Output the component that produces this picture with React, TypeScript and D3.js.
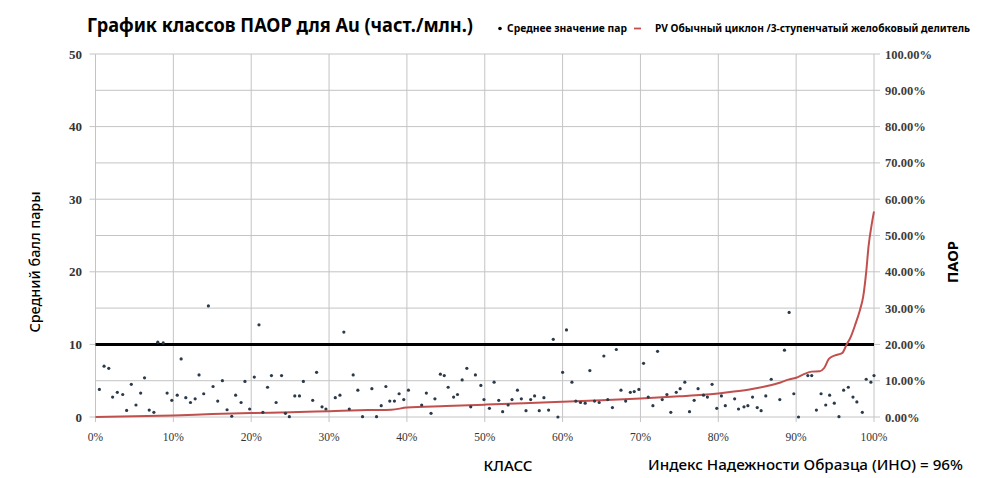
import React from "react";
import * as d3 from "d3";

// Scatter: class position (%) and average pair score
const classPct = [
  0.5, 1.1, 1.7, 2.2, 2.8, 3.5, 4.0, 4.6, 5.2, 5.8, 6.3, 6.9, 7.5, 8.0, 8.7, 9.2, 9.8, 10.5, 11.0, 11.6,
  12.2, 12.8, 13.3, 13.9, 14.5, 15.1, 15.7, 16.3, 16.9, 17.5, 18.0, 18.7, 19.2, 19.8, 20.4, 21.0, 21.5, 22.1, 22.6, 23.2,
  23.9, 24.4, 24.9,
  25.6, 26.2, 26.7, 27.9, 28.4, 29.1, 29.6, 30.8, 31.4, 31.9, 32.6, 33.1, 33.7, 34.3, 35.5, 36.1, 36.7, 37.3, 37.8, 38.4,
  39.0, 39.6, 40.2, 41.9, 42.5, 43.1, 43.6, 44.3, 44.8, 45.3, 46.0, 46.5, 47.1, 47.7, 48.2, 48.8, 49.5, 49.9,
  50.6, 51.2, 51.8, 52.3, 53.0, 53.5, 54.2, 54.7, 55.3, 55.9, 56.4, 57.0, 57.6, 58.2, 58.8, 59.4, 60.0, 60.5, 61.2, 61.7,
  62.3, 62.9, 63.5, 64.1, 64.7, 65.3, 65.8, 66.4, 66.9, 67.5, 68.1, 68.7, 69.2, 69.8, 70.4, 71.0, 71.6, 72.2, 72.8, 73.4,
  73.9, 74.6, 75.1,
  75.7, 76.3, 76.9, 77.4, 78.1, 78.6, 79.2, 79.8, 80.4, 80.9, 82.1, 82.6, 83.3, 83.8, 84.4, 85.0, 85.5, 86.1, 86.8, 87.9,
  88.5, 89.1, 89.7, 90.3, 91.5, 92.0, 92.6, 93.2, 93.8, 94.3, 94.9, 95.5, 96.1, 96.7, 97.3, 97.8, 98.5, 99.0, 99.6, 100,
];
const pairScore = [
  3.8, 7.0, 6.7, 2.75, 3.4, 3.1, 0.9, 4.5, 1.65, 3.3, 5.4, 0.96, 0.65, 10.3, 10.2, 3.3, 2.3, 3.0, 8.0, 2.66,
  2.0, 2.5, 5.8, 3.2, 15.3, 4.2, 2.2, 5.0, 1.0, 0.1, 3.0, 2.0, 4.9, 1.1, 5.5, 12.7, 0.65, 4.1, 5.7, 2.0,
  5.7, 0.5, 0.05,
  2.9, 2.9, 4.9, 2.3, 6.15, 1.4, 1.1, 2.66, 3.0, 11.7, 1.1, 5.8, 3.7, 0.05, 3.9, 0.05, 1.56, 4.2, 2.2, 2.2,
  3.2, 2.4, 3.7, 1.65, 3.3, 0.5, 2.5, 5.9, 5.7, 4.1, 2.75, 3.1, 5.1, 6.7, 1.4, 5.8, 4.35, 2.4,
  1.2, 4.8, 2.3, 0.73, 1.65, 2.4, 3.7, 2.5, 0.87, 2.4, 2.9, 0.87, 2.66, 0.96, 10.7, 0, 6.15, 12.0, 4.8, 2.2,
  2.0, 1.9, 6.4, 2.2, 2.0, 8.4, 2.4, 1.3, 9.3, 3.7, 2.2, 3.4, 3.5, 3.8, 7.4, 2.75, 1.56, 9.05, 2.4, 3.1,
  0.65, 3.4, 3.9,
  4.8, 0.73, 2.3, 3.9, 3.0, 2.75, 4.5, 1.2, 2.9, 1.56, 2.5, 1.1, 1.4, 1.56, 2.75, 1.3, 0.87, 2.9, 5.2, 2.4,
  9.2, 14.4, 3.2, 0, 5.7, 5.7, 0.96, 3.2, 1.65, 3.0, 1.9, 0.05, 3.7, 4.1, 2.75, 2.07, 0.65, 5.2, 4.8, 5.7,
];

// Red PV line: class position (%) and cumulative PAOR (%)
const pvClass = [
  0, 5, 10, 15, 20, 25, 30, 35, 38, 40, 45, 50, 55, 60, 65, 70, 75, 78, 80, 82, 84, 86, 88, 89, 90, 91, 92, 93,
  93.6, 94.2, 95, 95.9, 96.5, 97, 97.6, 98.2, 98.6, 99, 99.3, 99.7, 100,
];
const pvPaor = [
  0, 0.2, 0.4, 0.8, 1.1, 1.3, 1.6, 1.9, 2.0, 2.6, 3.0, 3.4, 3.8, 4.2, 4.6, 5.1, 5.7, 6.1, 6.5, 7.0, 7.6, 8.4, 9.5,
  10.3, 10.8, 11.8, 12.5, 12.6, 13.5, 16.0, 17.0, 17.6, 20.0, 22.0, 25.5, 29.5, 33.0, 40.0, 47.0, 53.0, 56.6,
];

const leftTicks = [0, 10, 20, 30, 40, 50];
const rightTicks = [0, 10, 20, 30, 40, 50, 60, 70, 80, 90, 100];
const xTicks = [0, 10, 20, 30, 40, 50, 60, 70, 80, 90, 100];
const thresholdScore = 10;

const title = "График классов ПАОР для Au (част./млн.)";
const legendScatter = "Среднее значение пар";
const legendLine = "PV Обычный циклон /3-ступенчатый желобковый делитель";
const xLabel = "КЛАСС";
const yLeftLabel = "Средний балл пары";
const yRightLabel = "ПАОР";
const indexLabel = "Индекс Надежности Образца (ИНО) = 96%";

export default function App() {
  const x = d3.scaleLinear().domain([0, 100]).range([95.5, 874]);
  const yL = d3.scaleLinear().domain([0, 50]).range([417, 54]);
  const yR = d3.scaleLinear().domain([0, 100]).range([417, 54]);
  const line = d3
    .line<number>()
    .x((_, i) => x(pvClass[i]))
    .y((d) => yR(d))
    .curve(d3.curveMonotoneX);

  const grid = "#c4c4c4";
  const serif = "'Liberation Serif', 'DejaVu Serif', serif";
  const sans = "'Noto Sans', 'Open Sans', sans-serif";

  return (
    <svg width={1000} height={478} style={{ position: "absolute", left: 0, top: 0, background: "#fff" }}>
      <rect x={0} y={0} width={1000} height={478} fill="#fff" />
      {/* horizontal gridlines every 5 */}
      {d3.range(0, 51, 5).map((v) => (
        <line key={"h" + v} x1={x(0)} x2={x(100)} y1={yL(v)} y2={yL(v)} stroke={grid} strokeWidth={1} />
      ))}
      {xTicks.map((v) => (
        <line key={"v" + v} x1={x(v)} x2={x(v)} y1={yL(50)} y2={yL(0)} stroke={grid} strokeWidth={1} />
      ))}
      {/* tick marks */}
      {leftTicks.map((v) => (
        <line key={"lt" + v} x1={x(0) - 6} x2={x(0)} y1={yL(v)} y2={yL(v)} stroke={grid} />
      ))}
      {rightTicks.map((v) => (
        <line key={"rt" + v} x1={x(100)} x2={x(100) + 6} y1={yR(v)} y2={yR(v)} stroke={grid} />
      ))}
      {xTicks.map((v) => (
        <line key={"xt" + v} x1={x(v)} x2={x(v)} y1={yL(0)} y2={yL(0) + 5} stroke={grid} />
      ))}
      {/* tick labels */}
      {leftTicks.map((v) => (
        <text key={"ll" + v} x={82} y={yL(v) + 4.5} textAnchor="end" fontFamily={serif} fontWeight="bold" fontSize={13} fill="#333">
          {v}
        </text>
      ))}
      {rightTicks.map((v) => (
        <text key={"rl" + v} x={885} y={yR(v) + 4.5} textAnchor="start" fontFamily={serif} fontWeight="bold" fontSize={12.5} fill="#3c3c3c">
          {v.toFixed(2) + "%"}
        </text>
      ))}
      {xTicks.map((v) => (
        <text key={"xl" + v} x={x(v)} y={441} textAnchor="middle" fontFamily={serif} fontSize={11.5} fill="#333">
          {v + "%"}
        </text>
      ))}
      {/* threshold line */}
      <line x1={x(0)} x2={x(100)} y1={yL(thresholdScore)} y2={yL(thresholdScore)} stroke="#000" strokeWidth={3} />
      {/* red PV line */}
      <path d={line(pvPaor) || ""} fill="none" stroke="#c0504d" strokeWidth={2} />
      {/* scatter */}
      {classPct.map((c, i) => (
        <circle key={"p" + i} cx={x(c)} cy={yL(pairScore[i])} r={1.6} fill="#2b3a4a" />
      ))}
      {/* title & legend */}
      <text x={87} y={32} fontFamily={sans} fontWeight="bold" fontSize={19} fill="#000" textLength={386} lengthAdjust="spacingAndGlyphs">
        {title}
      </text>
      <circle cx={500} cy={28.5} r={1.8} fill="#000" />
      <text x={507} y={32} fontFamily={sans} fontWeight="bold" fontSize={11} fill="#000" textLength={120} lengthAdjust="spacingAndGlyphs">
        {legendScatter}
      </text>
      <line x1={634} x2={641} y1={28.5} y2={28.5} stroke="#c0504d" strokeWidth={1.8} />
      <text x={655} y={32} fontFamily={sans} fontWeight="bold" fontSize={11} fill="#000" textLength={315} lengthAdjust="spacingAndGlyphs">
        {legendLine}
      </text>
      {/* axis titles */}
      <text x={508} y={471} textAnchor="middle" fontFamily={sans} fontWeight={500} fontSize={14} fill="#000" textLength={49} lengthAdjust="spacingAndGlyphs">
        {xLabel}
      </text>
      <text x={648} y={470} fontFamily={sans} fontWeight={500} fontSize={14} fill="#000" textLength={315} lengthAdjust="spacingAndGlyphs">
        {indexLabel}
      </text>
      <text transform="translate(40,262) rotate(-90)" textAnchor="middle" fontFamily={sans} fontWeight={500} fontSize={14} fill="#000" textLength={141} lengthAdjust="spacingAndGlyphs">
        {yLeftLabel}
      </text>
      <text transform="translate(958,262) rotate(-90)" textAnchor="middle" fontFamily={sans} fontWeight="bold" fontSize={14} fill="#000" textLength={42} lengthAdjust="spacingAndGlyphs">
        {yRightLabel}
      </text>
    </svg>
  );
}
